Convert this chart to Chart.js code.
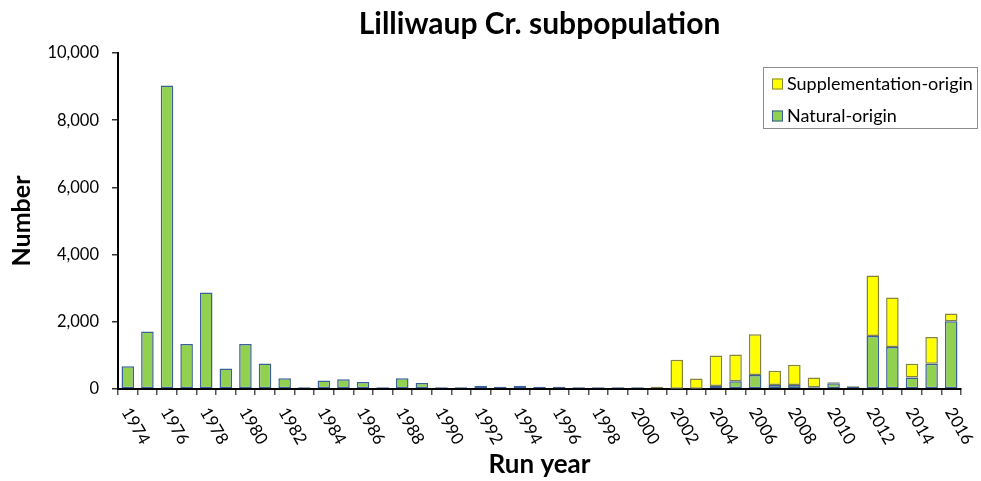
<!DOCTYPE html>
<html lang="en">
<head>
    <meta charset="UTF-8">
    <title>Lilliwaup Cr. subpopulation</title>
    <script src="https://cdn.jsdelivr.net/npm/chart.js"></script>
    <style>
        html, body { margin: 0; padding: 0; background: #fff; }
        #wrap { width: 981px; height: 481px; }
    </style>
</head>
<body>
<div id="wrap">
    <canvas id="runChart" width="981" height="481"></canvas>
</div>

<script>
    // Run years and abundance by origin
    const years = [1974, 1975, 1976, 1977, 1978, 1979, 1980, 1981, 1982, 1983,
                   1984, 1985, 1986, 1987, 1988, 1989, 1990, 1991, 1992, 1993,
                   1994, 1995, 1996, 1997, 1998, 1999, 2000, 2001, 2002, 2003,
                   2004, 2005, 2006, 2007, 2008, 2009, 2010, 2011, 2012, 2013,
                   2014, 2015, 2016];
    const naturalOrigin = [680, 1710, 9030, 1340, 2870, 610, 1340, 760, 320, 50,
                           250, 290, 210, 50, 320, 180, 50, 50, 100, 70,
                           100, 70, 70, 50, 50, 50, 50, 20, 10, 10,
                           90, 230, 420, 120, 120, 50, 170, 70, 1580, 1250,
                           340, 750, 2020];
    const supplementationOrigin = [0, 0, 0, 0, 0, 0, 0, 0, 0, 0,
                                   0, 0, 0, 0, 0, 0, 0, 0, 0, 0,
                                   0, 0, 0, 0, 0, 0, 0, 50, 860, 300,
                                   910, 800, 1210, 420, 600, 290, 30, 20, 1800, 1470,
                                   410, 800, 230];
    const yTicks = [0, 2000, 4000, 6000, 8000, 10000];

    Chart.defaults.color = '#000';
    Chart.defaults.font.family = 'Lato, "Open Sans", sans-serif';

    // x labels run down to the right from each even-year tick
    const slantedLabels = {
        id: 'slantedLabels',
        afterDraw(chart) {
            const ctx = chart.ctx;
            const xs = chart.scales.x;
            ctx.save();
            ctx.font = '17px Lato';
            ctx.fillStyle = '#000';
            ctx.textAlign = 'left';
            ctx.textBaseline = 'middle';
            years.forEach((yr, i) => {
                if (yr % 2 !== 0) return;
                const px = xs.getPixelForValue(i);
                ctx.save();
                ctx.translate(px - 2, xs.top + 20);
                ctx.rotate(Math.PI / 3);
                ctx.fillText(String(yr), 0, 0);
                ctx.restore();
            });
            ctx.restore();
        }
    };

    // boxed legend in the top right corner of the plot
    const boxLegend = {
        id: 'boxLegend',
        afterDraw(chart) {
            const ctx = chart.ctx;
            const items = chart.data.datasets.slice().reverse();
            ctx.save();
            ctx.strokeStyle = '#8c8c8c';
            ctx.lineWidth = 1;
            ctx.strokeRect(763.5, 67.5, 214, 61);
            ctx.font = '18px Lato';
            ctx.textBaseline = 'middle';
            ctx.textAlign = 'left';
            items.forEach((ds, i) => {
                const y = 84 + i * 32;
                ctx.fillStyle = ds.backgroundColor;
                ctx.fillRect(772, y - 5.5, 11, 11);
                ctx.strokeStyle = ds.borderColor;
                ctx.strokeRect(772.5, y - 5, 10, 10);
                ctx.fillStyle = '#000';
                ctx.fillText(ds.label, 787, y);
            });
            ctx.restore();
        }
    };

    const ctx = document.getElementById('runChart').getContext('2d');
    new Chart(ctx, {
        type: 'bar',
        data: {
            labels: years,
            datasets: [{
                label: 'Natural-origin',
                data: naturalOrigin,
                backgroundColor: '#92d050',
                borderColor: '#3a5f9a',
                borderWidth: 1.5,
                borderSkipped: false,
                barPercentage: 0.64,
                categoryPercentage: 1
            }, {
                label: 'Supplementation-origin',
                data: supplementationOrigin,
                backgroundColor: '#ffff00',
                borderColor: '#84843c',
                borderWidth: 1.5,
                borderSkipped: false,
                barPercentage: 0.64,
                categoryPercentage: 1
            }]
        },
        options: {
            responsive: false,
            animation: false,
            layout: { padding: { left: 0, right: 20, top: 0, bottom: 0 } },
            plugins: {
                legend: { display: false },
                tooltip: { enabled: false },
                title: {
                    display: true,
                    text: 'Lilliwaup Cr. subpopulation',
                    fullSize: false,
                    font: { size: 30, weight: 'bold', lineHeight: 1.2 },
                    padding: { top: 6, bottom: 11 }
                }
            },
            scales: {
                x: {
                    stacked: true,
                    afterFit(scale) { scale.height = 92; },
                    border: { display: true, color: '#000', width: 2 },
                    grid: {
                        display: true,
                        offset: true,
                        drawOnChartArea: false,
                        drawTicks: true,
                        tickLength: 6,
                        color: '#555',
                        lineWidth: 1.5
                    },
                    ticks: { display: false },
                    title: {
                        display: true,
                        text: 'Run year',
                        font: { size: 26, weight: 'bold', lineHeight: 1.2 },
                        padding: { top: 0, bottom: 1 }
                    }
                },
                y: {
                    stacked: true,
                    min: yTicks[0],
                    max: yTicks[yTicks.length - 1],
                    afterFit(scale) { scale.width = 118; },
                    afterBuildTicks(scale) { scale.ticks = yTicks.map(v => ({ value: v })); },
                    border: { display: true, color: '#000', width: 2 },
                    grid: {
                        display: true,
                        drawOnChartArea: false,
                        drawTicks: true,
                        tickLength: 6,
                        color: '#333',
                        lineWidth: 1.5
                    },
                    ticks: {
                        padding: 13,
                        font: { size: 16.5 },
                        callback: v => Number(v).toLocaleString('en-US')
                    },
                    title: {
                        display: true,
                        text: 'Number',
                        font: { size: 25, weight: 'bold', lineHeight: 1.2 },
                        padding: { top: 7, bottom: 0 }
                    }
                }
            }
        },
        plugins: [slantedLabels, boxLegend]
    });
</script>
</body>
</html>
